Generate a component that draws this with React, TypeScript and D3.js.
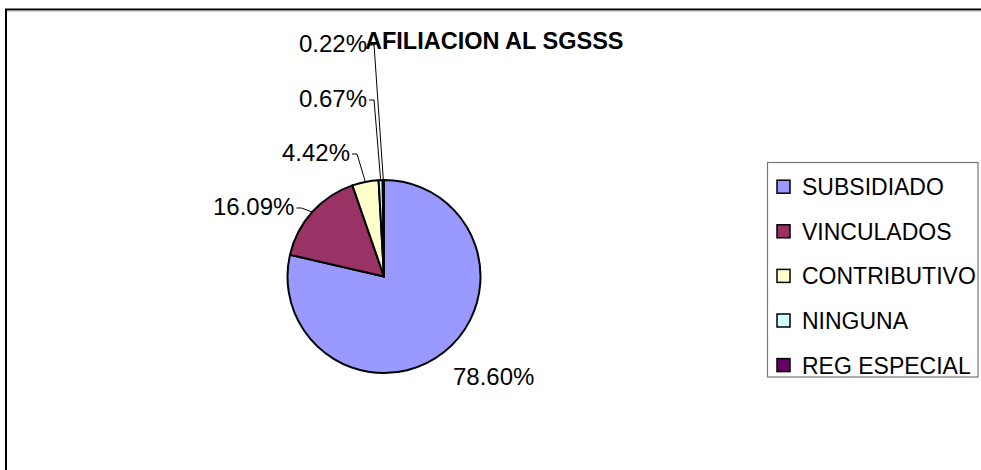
import React from "react";
import * as d3 from "d3";

const categories = ["SUBSIDIADO", "VINCULADOS", "CONTRIBUTIVO", "NINGUNA", "REG ESPECIAL"];
const values = [78.6, 16.09, 4.42, 0.67, 0.22];
const colors = ["#9999FF", "#993366", "#FFFFCC", "#CCFFFF", "#660066"];
const title = "AFILIACION AL SGSSS";

// label layout (text start x, baseline y, has leader)
const labelLayout = [
  { x: 453, y: 385, leader: false },
  { x: 213, y: 215, leader: true },
  { x: 282, y: 161, leader: true },
  { x: 299, y: 107, leader: true },
  { x: 299, y: 52, leader: true },
];

const W = 981;
const H = 470;
const cx = 384;
const cy = 276.5;
const R = 96.5;
const FONT = "'Liberation Sans', Arial, sans-serif";
const LABEL_SIZE = 24;

export default function App() {
  const pie = d3.pie<number>().sort(null).startAngle(0).endAngle(2 * Math.PI);
  const arcs = pie(values);
  const arc = d3.arc<d3.PieArcDatum<number>>().innerRadius(0).outerRadius(R);
  const fmt = (v: number) => v.toFixed(2) + "%";
  const pointOn = (a: number) => [cx + R * Math.sin(a), cy - R * Math.cos(a)];

  const measure = (t: string, size: number, bold = false) => {
    if (typeof document === "undefined") return t.length * size * 0.55;
    const c = document.createElement("canvas").getContext("2d")!;
    c.font = `${bold ? "bold " : ""}${size}px ${FONT}`;
    return c.measureText(t).width;
  };

  const legendY0 = 186.7;
  const legendStep = 44.6;

  return (
    <svg width={W} height={H} style={{ position: "absolute", left: 0, top: 0, background: "#fff" }}>
      <rect x={0} y={0} width={W} height={H} fill="#fff" />
      {/* chart border */}
      <rect x={6} y={9.5} width={W + 20} height={H + 20} fill="none" stroke="#000" strokeWidth={2} />
      <line x1={7} y1={11} x2={W} y2={11} stroke="#aaa" strokeWidth={1} />

      {/* pie */}
      <g transform={`translate(${cx},${cy})`}>
        {arcs.map((a, i) => (
          <path key={i} d={arc(a) || ""} fill={colors[i]} stroke="#000" strokeWidth={2} strokeLinejoin="round" />
        ))}
      </g>

      {/* leader lines */}
      {arcs.map((a, i) => {
        const L = labelLayout[i];
        if (!L.leader) return null;
        const mid = (a.startAngle + a.endAngle) / 2;
        const [px, py] = pointOn(mid);
        const tw = measure(fmt(values[i]), LABEL_SIZE);
        const sx = L.x + tw + 2;
        const sy = L.y - 7;
        return (
          <polyline
            key={"l" + i}
            points={`${sx},${sy} ${sx + 5},${sy} ${px},${py}`}
            fill="none"
            stroke="#000"
            strokeWidth={1}
          />
        );
      })}

      {/* labels */}
      {arcs.map((a, i) => (
        <text key={"t" + i} x={labelLayout[i].x} y={labelLayout[i].y} fontFamily={FONT} fontSize={LABEL_SIZE} fill="#000">
          {fmt(values[i])}
        </text>
      ))}

      {/* title */}
      <text x={365} y={49} fontFamily={FONT} fontSize={23.5} fontWeight="bold" fill="#000">
        {title}
      </text>

      {/* legend */}
      <rect x={767.5} y={162.5} width={210.5} height={214.5} fill="#fff" stroke="#777" strokeWidth={1.2} />
      {categories.map((c, i) => {
        const yc = legendY0 + i * legendStep;
        return (
          <g key={"lg" + i}>
            <rect x={777} y={yc - 6.5} width={13} height={13} fill={colors[i]} stroke="#000" strokeWidth={1.5} />
            <text x={802} y={yc + 8.5} fontFamily={FONT} fontSize={23} fill="#000">
              {c}
            </text>
          </g>
        );
      })}
    </svg>
  );
}
